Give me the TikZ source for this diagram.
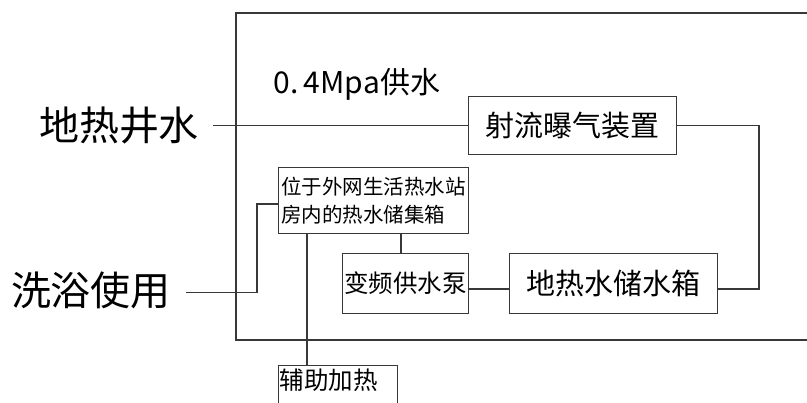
\documentclass[tikz,border=0pt]{standalone}
\usepackage{fontspec}
\setmainfont{Noto Sans CJK SC}
\usetikzlibrary{calc}
\begin{document}
\begin{tikzpicture}[x=1pt,y=-1pt,
  ln/.style={draw=black!78,line width=1.1pt},
  boxnode/.style={ln,inner sep=0pt,anchor=north west,text=black},
  lbl/.style={inner sep=0pt,text=black}]
\useasboundingbox (0,0) rectangle (807,403);
\clip (0,0) rectangle (807,403);
\fill[white] (0,0) rectangle (807,403);
% outer frame (right side runs off the picture)
\draw[ln] (820,13) -- (236,13) -- (236,340) -- (820,340);
% labels
\node[lbl,font=\fontsize{40}{44}\selectfont] (well) at (119,125) {地热井水};
\node[lbl,font=\fontsize{40}{44}\selectfont] (bath) at (91,290) {洗浴使用};
\node[lbl,font=\fontsize{30}{32}\selectfont] (press) at (357,84) {0.\,4Mpa供水};
% boxes
\node[boxnode,minimum width=208pt,minimum height=58pt,font=\fontsize{29}{32}\selectfont] (jet) at (468,96) {射流曝气装置};
\node[boxnode,minimum width=190pt,minimum height=66pt,inner xsep=2pt,align=left,font=\fontsize{20.5}{28}\selectfont] (store) at (278,167) {位于外网生活热水站\\房内的热水储集箱};
\node[boxnode,minimum width=126pt,minimum height=60pt,font=\fontsize{24.5}{28}\selectfont] (pump) at (342,253) {变频供水泵};
\node[boxnode,minimum height=55pt,inner xsep=1pt,text width=117pt,align=left,font=\fontsize{24.5}{28}\selectfont,text depth=28pt] (aux) at (278,365) {辅助加热};
\node[boxnode,minimum width=208pt,minimum height=60pt,font=\fontsize{29}{32}\selectfont] (tank) at (509,253) {地热水储水箱};
% connectors
\coordinate (wellend) at (213,125.7);
\draw[ln] (wellend) -- (jet.west |- wellend);
\coordinate (rturn) at (759,125.7);
\coordinate (rlow) at (759,289);
\draw[ln] (jet.east |- rturn) -- (rturn) -- (rlow) -- (tank.east |- rlow);
\draw[ln] (pump.east |- rlow) -- (tank.west |- rlow);
\coordinate (vx) at (401,0);
\draw[ln] (store.south -| vx) -- (pump.north -| vx);
\coordinate (ax) at (307,0);
\draw[ln] (store.south -| ax) -- (aux.north -| ax);
\coordinate (bathend) at (186,292.7);
\coordinate (bturn) at (257,292.7);
\coordinate (bup) at (257,204);
\draw[ln] (bathend) -- (bturn) -- (bup) -- (store.west |- bup);
\end{tikzpicture}
\end{document}
